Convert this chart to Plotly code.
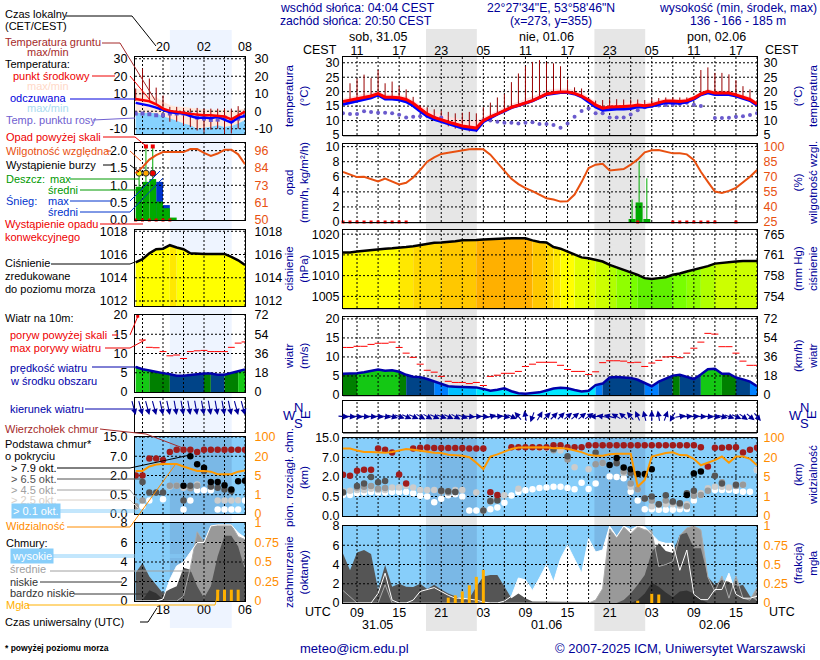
import math
import plotly.graph_objects as go

W, H = 820, 660
FONT = "Liberation Sans"
NAVY = "#000099"

# ---------- main column data (hourly, 31.05 07 UTC .. 02.06 18 UTC, hour counted from 31.05 00) ----------
M_H = list(range(7, 67))
M_T = [16.6,17.1,17.6,18.1,18.5,19.3,18.1,18.1,17.9,17.3,
       16.0,14.1,12.3,11.1,10.2,9.5,8.8,8.1,7.8,7.4,
       10.0,11.3,12.3,13.4,14.6,15.3,16.0,16.9,18.0,19.2,
       19.6,19.9,19.9,19.4,18.5,17.1,15.4,14.3,14.7,14.9,
       14.9,15.0,15.4,15.1,15.5,16.2,16.8,16.8,16.6,16.9,
       17.8,19.2,20.1,19.5,19.4,19.5,18.9,18.2,17.3,15.7]
M_FEEL = [15.6,16.2,16.8,17.4,17.9,18.9,17.5,17.5,17.2,16.5,
          15.1,13.2,11.5,10.4,9.6,8.9,8.2,7.4,7.0,6.7,
          9.6,11.0,12.2,13.3,14.5,15.2,15.9,16.8,17.9,19.0,
          19.4,19.7,19.7,19.2,18.2,16.6,14.7,13.6,13.9,14.0,
          14.0,14.2,14.8,14.6,15.0,15.6,16.2,16.1,16.0,16.4,
          17.4,18.9,19.6,19.0,18.9,19.0,18.5,17.8,16.9,15.3]
M_TMAX = [17.6,18.2,18.8,19.3,19.6,20.4,19.1,19.1,18.9,18.4,
          17.1,15.4,13.8,12.8,12.0,11.4,10.8,10.4,10.2,10.0,
          11.2,12.4,13.4,14.6,15.8,16.6,17.4,18.4,19.4,20.6,
          21.0,21.1,21.1,20.6,19.7,18.2,16.6,15.5,15.9,16.0,
          16.1,16.2,16.5,16.2,16.6,17.2,17.7,17.7,17.5,17.8,
          18.7,20.0,20.9,20.4,20.3,20.4,19.9,19.1,18.2,16.5]
M_FMIN = [15.0,15.7,16.3,16.9,17.4,18.4,17.0,17.0,16.7,16.0,
          14.6,12.7,11.0,9.9,9.1,8.4,7.7,6.9,6.5,6.2,
          9.1,10.5,11.8,13.0,14.2,14.9,15.6,16.5,17.6,18.7,
          19.1,19.4,19.4,18.9,17.9,16.2,14.2,13.2,13.5,13.6,
          13.6,13.8,14.4,14.2,14.6,15.2,15.8,15.7,15.6,16.0,
          17.0,18.5,19.2,18.6,18.5,18.6,18.1,17.4,16.5,15.0]
M_GMAX = [16.5,22.9,24.5,25.9,24.7,27.5,22.9,23.5,21.9,20.8,
          18.2,15.3,14.6,13.9,13.4,13.0,12.5,12.7,13.0,12.5,
          14.6,16.2,18.0,19.2,23.3,26.3,28.8,30.3,30.9,30.2,
          29.8,28.8,24.2,21.5,21.1,17.3,16.9,17.1,17.4,17.4,
          17.3,17.3,17.3,17.1,17.6,17.8,18.0,18.0,18.0,18.0,
          18.2,27.5,28.4,26.5,26.5,26.0,24.0,21.9,20.8,17.1]
M_GMIN = [15.5,16.0,16.6,17.2,17.7,18.6,17.3,17.3,17.0,16.3,
          14.9,13.0,11.2,10.0,9.0,8.0,7.2,6.6,6.2,6.0,
          9.4,10.8,12.0,13.2,14.4,15.1,15.8,16.7,17.8,18.9,
          19.3,19.6,19.6,19.1,18.1,16.4,14.5,13.4,13.7,13.8,
          13.8,14.0,14.6,14.4,14.8,15.4,16.0,16.0,15.9,16.2,
          17.2,18.7,19.4,18.8,18.7,18.8,18.3,17.6,16.7,15.1]
M_DEW = [12.5,12.3,12.3,13.2,13.0,12.7,12.7,12.5,12.0,11.1,
         11.3,11.5,11.6,11.1,11.1,None,None,None,None,None,
         10.0,10.0,9.6,9.2,9.2,9.0,9.2,9.4,8.8,8.8,
         8.5,7.5,9.0,11.3,13.3,14.2,12.5,12.5,11.1,11.1,
         11.1,12.1,13.6,14.6,15.0,15.2,15.4,15.5,15.7,16.2,
         15.5,15.0,None,10.9,10.9,11.0,11.3,11.5,11.9,12.5]
M_RH = [74.7,72.0,69.7,70.0,68.0,65.3,68.3,65.0,62.3,64.0,
        69.3,76.7,85.0,89.3,92.7,94.0,95.3,96.3,97.3,97.7,
        97.3,92.0,84.0,76.0,68.0,62.7,58.7,55.7,52.3,48.7,
        47.3,45.3,45.7,52.3,64.7,78.7,82.0,83.0,76.3,76.7,
        77.7,82.0,87.3,94.3,96.3,96.7,95.3,93.3,93.3,92.3,
        86.7,75.0,65.0,55.3,54.0,56.0,59.0,64.7,70.0,76.7]
M_RAIN_H = [48.2, 49.2, 50.3]
M_RAIN_MEAN = [0.4, 2.6, 0.4]
M_RAIN_MAX = [3.0, 8.0, 5.8]
M_CONV_H = [7,8,9,10,11,12,13,14,15,16,49,54,55,56,57,58,59,60,63]
M_P = [1015.6,1015.6,1015.8,1016.0,1016.1,1016.3,1016.5,1016.6,1016.7,1016.9,
       1017.1,1017.4,1017.7,1017.9,1018.0,1018.1,1018.3,1018.5,1018.5,1018.6,
       1018.7,1018.8,1018.9,1019.0,1019.0,1019.0,1019.0,1018.5,1018.1,1018.0,
       1016.9,1016.5,1015.8,1015.0,1014.4,1014.2,1013.8,1013.4,1012.6,1012.0,
       1011.4,1010.8,1010.2,1009.4,1009.2,1009.4,1009.6,1010.2,1010.5,1011.0,
       1011.4,1011.9,1012.3,1012.9,1013.1,1013.3,1013.4,1013.5,1013.5,1013.5]
M_WIND = [5.6,5.6,5.7,6.0,6.4,6.7,6.4,6.5,6.1,5.3,
          4.8,4.7,4.2,3.5,2.8,2.3,2.2,2.1,2.1,2.0,
          1.6,1.1,1.4,1.75,1.0,0.45,0.35,0.45,0.7,1.2,
          1.7,1.9,1.75,1.3,0.9,1.1,2.6,3.0,4.6,4.7,
          4.6,4.5,4.0,3.1,2.3,3.5,4.4,5.1,5.3,4.7,
          4.2,5.4,6.8,6.9,5.6,5.6,4.6,4.1,3.5,2.3]
M_GUST = [12.5,12.5,12.8,12.8,13.3,13.6,13.6,13.9,12.5,11.0,
          9.9,8.1,6.5,6.0,4.9,3.6,3.3,3.3,3.0,3.3,
          2.5,4.9,5.2,5.7,5.7,6.2,7.5,8.1,8.6,8.6,
          8.6,7.8,6.7,6.2,6.2,5.4,6.1,8.5,9.0,9.0,
          8.9,8.5,8.6,7.5,8.4,9.1,10.0,10.1,9.8,11.0,
          12.3,13.9,16.2,16.0,12.7,12.7,11.0,8.9,7.8,7.8]
M_DIR = [95,95,95,95,95,95,100,105,110,115,
         115,120,120,115,110,115,120,110,95,90,
         95,75,85,100,115,320,350,200,30,45,
         45,45,50,50,50,55,270,280,285,300,
         310,320,335,345,0,350,20,210,80,85,
         88,92,95,100,105,110,115,125,130,140]
M_TOP = [2.55,2.3,3.6,3.85,3.85,10.7,10.2,9.1,2.65,1.5,
         10.7,11,11.1,10.9,10.9,10.9,10.9,10.9,10.7,10.7,
         10.7,.83,.62,None,11.2,11.2,11.2,11.2,11.2,11.2,
         12,12,11.2,11.2,11.2,12,12,12,12,12,
         12,12,12,12,12,12,12,12,12,12,
         12,11.2,4.7,11,11,11.2,11.2,9.1,10.2,11]
M_B79 = [None]*38 + [5.1,6.85,4.45,4,2.8,2.8,4,None,None,None,None,.62,2.9,3.4] + [None]*8
M_B65 = [.8,None,1.3,1.5,2,1.6,1.7,None,None,None,
         None,None,None,None,.95,.9,.85,None,None,None,
         .14,.38,.4,None,None,None,None,None,None,None,
         10.5,None,7.5,None,None,None,9,None,None,5.5,
         None,3,None,.45,.5,.3,.6,.37,.33,.75,
         .95,None,None,2.3,1.5,None,1.4,None,None,None]
M_B45 = [.85,None,1.2,1.25,1.3,1.1,1.15,None,None,None,
         None,None,None,None,.9,.8,.85,None,None,None,
         .14,.4,.45,None,None,None,None,None,None,None,
         10,None,6.5,None,None,None,5.3,5.6,None,6,
         3.4,1.5,1.06,.45,.4,.3,.4,.35,.3,.25,
         .55,.62,.95,None,1.6,None,1.3,1.4,None,None]
M_B25 = [.9,.95,1.0,1.0,1.1,1.0,1.0,1.2,1.2,1.3,
         1.2,1.0,1.0,1.0,.9,.9,1.0,1.0,None,.8,
         None,.37,.45,.6,None,1.1,None,None,11,11,
         11,9.9,None,4.5,None,4,None,5.5,None,None,
         3,1.25,1.06,.45,.25,.28,.3,.3,.26,.3,
         .75,.75,1.13,1.25,1.25,1.2,1.4,1.4,None,3.8]
M_B01 = [.62,.62,.75,.8,.85,.8,.8,.85,.85,.85,
         .75,.55,.5,.35,.44,.6,.67,.5,.14,.14,
         .14,.17,.22,.34,.57,.85,.98,1.06,1.16,1.2,
         1.25,1.25,1.16,1.05,1.55,1.07,1.5,None,2.1,2.0,
         1.9,.87,.4,.17,.17,.16,.16,.16,.17,.18,
         .4,.62,None,1.0,1.0,1.0,.95,.87,.87,3.8]
M_VIS = [57,57,49,43,43,42,39,43,49,55,
         52,47,44,40,38,31,29,27,21,16,
         11,24,33,45,55,61,62,62,62,62,
         58,59,56,50,42,31,27,27,33,35,
         35,35,3,4.4,24,31,38,41,30,29,
         19,14,16,18,24,16,24,24,19,14]
M_CL_HIGH = [0,0,0,0,0,1,3.1,.3,0,0,
             .3,1.2,1.4,1.6,1.2,.8,.5,.5,.4,.3,
             .1,0,0,.2,.7,2.6,2.4,1.3,2.6,4,
             2.2,4.6,6,4.6,3.1,6.7,5.3,5.5,8,6.9,
             8,7.6,8,7.9,7.2,6.4,6.2,6.2,3.4,5.5,
             .9,.35,.35,1.4,1.4,3.1,.9,.5,.5,.7]
M_CL_MID = [1.3,.6,0,0,0,0,1.9,0,0,0,
            0,0,0,0,0,0,0,0,0,0,
            0,0,0,0,0,0,0,0,0,0,
            0,0,0,0,0,0,.3,1.5,7.7,6.8,
            7.9,7.2,7.9,7.6,7.5,3.8,4,4.3,7,7.8,
            8,7.6,2.7,1.2,2.8,.5,2.8,.5,.3,1.6]
M_CL_LOW = [5.15,3.4,5.25,5.5,5.1,1.4,3.95,1.7,2,1.7,
            1.65,2,1.45,1.9,1.4,1,.7,.35,.5,1.7,
            2.75,2.9,2.9,1.7,.5,1,.5,.15,.15,.15,
            .1,.1,.1,.1,.1,.1,0,0,0,0,
            .3,1,1.9,2.9,5.3,6.2,5.4,5.2,7.1,7.3,
            5.7,5.7,2.7,1.9,2.4,2.2,1.7,1.9,.7,.2]
M_CL_VLOW = [0,0,0,0,0,0,0,0,0,0,
             0,0,0,0,0,0,0,0,0,0,
             0,0,0,0,0,0,0,0,0,0,
             0,0,0,0,0,0,0,0,0,0,
             0,0,.3,1,2.1,1.7,1.1,.6,1.2,1.3,
             1,.4,0,0,0,0,0,0,0,0]
M_FOG_H = [22,23,24,25,26,27,49,51,52]
M_FOG = [.07,.1,.15,.23,.34,.43,.03,.12,.11]

# ---------- left column data (hourly, 14 UTC .. 06 UTC next day, 24 = midnight) ----------
L_H = list(range(14, 31))
L_T = [7,6.5,5.7,4,1.5,.2,-.2,-.8,-1.5,-2,-2.3,-2.3,-2.7,-3,-4.6,-2.3,-.2]
L_FEEL = [4.8,4.2,3.2,2.1,.6,-.6,-1,-1.3,-2.7,-3.8,-3.6,-4,-3.2,-4.8,-6.5,-3.6,-2.7]
L_TMAX = [13,12,9,8,5.5,3.5,2.5,2.5,2,1.5,1.2,1,1,.8,.2,1,1.5]
L_FTOP = [-1,-1,-1,-1,-3,-4,-5.5,-7,-8,-10,-9.5,-9,-8,-9,-8.5,-7,-5]
L_GMAX = [13,24.4,18.7,13.5,9,2.5,2.5,1.5,1.5,1.9,1.5,1.5,1.5,1.5,1.5,2.9,0]
L_GMIN = [6,6,6,4,1.5,-6,-6,-8,-9,-11,-12,-10.5,-10,-12.7,-12.7,-10,-1]
L_DEW = [-1.3,-1.3,-1.7,-2.3,-2.3,-1.3,-1.3,-1.3,-1.7,-3.6,-4.2,-5,-4.8,-3.6,-5.5,-4.2,-2.3]
L_RH = [81,85,90,93,95,95,95,95,97,97,94.5,92.5,94,96.5,96.5,93.5,87]
L_RAIN_H = [14.5,15.5,16.5,17.5,18.5,19.5]
L_RAIN_MEAN = [.96,1.1,1.18,.53,.34,.07]
L_SNOW_H = [17.5,18.5]
L_SNOW_MEAN = [1.1,.43]
L_RAIN_MAX_H = [14.5,15.5,16.5]
L_RAIN_MAX = [1.35,2.1,2.1]
L_RAIN_MAX_BASE = [.96,1.1,1.18]
L_STORM_H = [14.5,15.5,16.5]
L_STORM_V = [1.35,1.35,1.35]
L_STORM_C = ["#FFEE00","#FFA500","#EE0000"]
L_OVER_H = [15.5,16.5]
L_OVER_V = [2.12,2.12]
L_CONV_H = [14,15,16,17,18,19]
L_P = [1015.33,1015.6,1016.1,1016.45,1016.5,1016.8,1016.6,1016.45,1016.1,1016.05,1016.05,1016.05,1016.05,1016.05,1015.8,1015.5,1015.1]
L_WIND = [6.5,5.9,5.6,5.2,4.9,4.6,4.2,4.2,4.4,4.6,4.8,4.8,4.5,4.5,5.0,5.5,5.85]
L_GUST = [None,13.5,11.6,11.5,10.5,9.4,9.6,8.7,10.5,10.7,10.8,10.5,10.5,10.5,11.6,12.7,13]
L_GUST_OVER_H = [14.3]
L_GUST_OVER = [19.7]
L_DIR = [165,165,165,165,168,168,170,170,170,170,170,170,170,170,168,165,165]
L_TOP = [2,2,6.4,6.4,6,8.8,9.7,9.7,9.7,8.8,9.7,9.7,9.7,9.7,9.7,9.7,9.7]
L_B79 = [None,None,None,None,None,None,None,1.2,7,4.9,4,1.5,1.5,1.25,.9,1.55,1.6]
L_B65 = [None,1.5,.68,.68,.68,None,None,.35,1.2,None,3.2,1.15,1.05,.9,.8,None,None]
L_B45 = [.2,.35,None,None,None,1.2,1.2,None,1,1.2,None,1.15,None,None,None,None,None]
L_B25 = [.18,None,None,None,None,1.15,1.2,1.05,None,1.3,None,None,.35,.35,.35,.36,None]
L_B01 = [None,.2,.35,None,.38,None,None,.12,.35,.85,.85,.85,.12,.12,.12,.12,.35]
L_VIS = [8.6,8.6,12,13.6,14,14,14,12,10,8.6,8.6,8,6,6,6,8,9]
L_CL_HIGH = [0,0,0,0,.2,2.2,3.6,4,5,6,6,7.7,7.8,7.8,7.8,7,6.5]
L_CL_MID = [0,0,0,0,0,0,0,.5,3.4,7.1,6,7.7,7.8,7.8,7.8,6.6,6.3]
L_CL_LOW = [2.9,3.9,2.5,1.7,.8,1.2,1.5,3.4,3.2,1.5,.3,1.5,4.6,6.7,6.7,5.6,3.2]
L_CL_VLOW = [0,.1,1.1,.8,.15,0,0,0,0,0,0,0,0,0,0,0,0]
L_FOG_H = [26,27,28,29]
L_FOG = [.145,.145,.145,.145]

# ---------- axis ticks ----------
M_XGRID = list(range(9, 67, 3))
L_XGRID = list(range(15, 31, 3))
M_XT = [9,15,21,27,33,39,45,51,57,63]
M_CEST = ["11","17","23","05","11","17","23","05","11","17"]
M_UTC = ["09","15","21","03","09","15","21","03","09","15"]
L_XT = [18,24,30]
L_CEST = ["20","02","08"]
L_UTC = ["18","00","06"]
BASE_KM = [0,.5,2,7,15]
VIS_KM = [0,1,5,20,100]

def to_idx(v, scale):
    if v is None:
        return None
    for i in range(4):
        if v <= scale[i+1]:
            return i + (v-scale[i])/(scale[i+1]-scale[i])
    return 4

def fx(p): return p/W
def fy(p): return 1-p/H

traces, shapes, anns = [], [], []
layout_axes = {}

MX = (343,757); LX = (135,245)
MR = [7,66]; LR = [13.9,30]

def panel(i, xpx, ypx, xr, yr, yt, ytt, rr, rt, rtt, rcolor, xt=None, xtt=None, side=None, lt=3, rtl=3, stand=0):
    layout_axes[f"xaxis{i}"] = dict(domain=[fx(xpx[0]),fx(xpx[1])], range=xr, anchor=f"y{i}", showgrid=False, zeroline=False,
        showline=True, mirror=True, linecolor="black", linewidth=1, ticks="", ticklabelstandoff=stand,
        tickmode="array", tickvals=xt or [], ticktext=xtt or [], side=side or "bottom",
        tickfont=dict(family=FONT,size=12.5,color="black"), fixedrange=True)
    layout_axes[f"yaxis{i}"] = dict(domain=[fy(ypx[1]),fy(ypx[0])], range=yr, anchor=f"x{i}", showgrid=False, zeroline=False,
        showline=True, mirror=True, linecolor="black", linewidth=1, ticks="outside" if lt else "", ticklen=lt, tickcolor="rgba(0,0,0,0)",
        tickmode="array", tickvals=yt, ticktext=ytt, tickfont=dict(family=FONT,size=12.5,color="black"), fixedrange=True)
    layout_axes[f"yaxis{i+20}"] = dict(range=rr, overlaying=f"y{i}", anchor=f"x{i}", side="right", showgrid=False, zeroline=False,
        showline=False, ticks="outside", ticklen=rtl, tickcolor="rgba(0,0,0,0)",
        tickmode="array", tickvals=rt, ticktext=rtt, tickfont=dict(family=FONT,size=12.5,color=rcolor), fixedrange=True)
    traces.append(go.Scatter(x=[xr[0]],y=[rr[0]],xaxis=f"x{i}",yaxis=f"y{i+20}",mode="markers",marker=dict(opacity=0),hoverinfo="skip"))

def grid(i, xs, ys, xr, yr):
    gx, gy = [], []
    for x in xs:
        gx += [x,x,None]; gy += [yr[0],yr[1],None]
    for y in ys:
        gx += [xr[0],xr[1],None]; gy += [y,y,None]
    traces.append(go.Scatter(x=gx,y=gy,xaxis=f"x{i}",yaxis=f"y{i}",mode="lines",
        line=dict(color="black",width=1,dash="2px,2px"),hoverinfo="skip"))

def line(i, x, y, color, width=2, right=False):
    traces.append(go.Scatter(x=x,y=y,xaxis=f"x{i}",yaxis=f"y{i+20 if right else i}",mode="lines",
        line=dict(color=color,width=width),connectgaps=False,hoverinfo="skip"))

def dots(i, x, y, color, size=4, symbol="circle", clip=True, border=None, right=False):
    traces.append(go.Scatter(x=x,y=y,xaxis=f"x{i}",yaxis=f"y{i+20 if right else i}",mode="markers",cliponaxis=clip,
        marker=dict(color=color,size=size,symbol=symbol,line=dict(color=border or color,width=1 if border else 0)),hoverinfo="skip"))

def band(i, x, top, bottom, color):
    traces.append(go.Scatter(x=x,y=top,xaxis=f"x{i}",yaxis=f"y{i}",mode="lines",line=dict(width=0),hoverinfo="skip"))
    traces.append(go.Scatter(x=x,y=bottom,xaxis=f"x{i}",yaxis=f"y{i}",mode="lines",line=dict(width=0),fill="tonexty",fillcolor=color,hoverinfo="skip"))

def spikes(i, x, lo, hi, color, width=1, right=False):
    sx, sy = [], []
    for a,b,c in zip(x,lo,hi):
        sx += [a,a,None]; sy += [b,c,None]
    traces.append(go.Scatter(x=sx,y=sy,xaxis=f"x{i}",yaxis=f"y{i+20 if right else i}",mode="lines",
        line=dict(color=color,width=width),hoverinfo="skip"))

def area(i, x, y, color):
    traces.append(go.Scatter(x=x,y=y,xaxis=f"x{i}",yaxis=f"y{i}",mode="lines",line=dict(width=0),fill="tozeroy",fillcolor=color,hoverinfo="skip"))

def seg_fill(i, x, y, colorfn):
    start = 0
    cols = [colorfn((y[k]+y[k+1])/2) for k in range(len(y)-1)]
    for k in range(1,len(cols)+1):
        if k==len(cols) or cols[k]!=cols[start]:
            area(i, x[start:k+1], y[start:k+1], cols[start])
            start = k

def press_color(p):
    for th,c in [(1018.6,"#FFB000"),(1018.0,"#FFC800"),(1017.2,"#FFD800"),(1016.7,"#FFE800"),(1015.2,"#FFFF00"),
                 (1014,"#E4FF00"),(1013,"#CCFF00"),(1012,"#B0FF00"),(1011,"#90FF00"),(1010,"#78FF00")]:
        if p>=th: return c
    return "#60F000"

def wind_color(v):
    for th,c in [(5.7,"#14C814"),(5.1,"#008000"),(3.5,"#004488"),(2.5,"#0080FF"),(2,"#00C0FF")]:
        if v>=th: return c
    return "#00E8FF"

def wind_color_left(v):
    for th,c in [(5.6,"#14C814"),(4.7,"#008000")]:
        if v>=th: return c
    return "#004488"

def gusts(i, x, y):
    traces.append(go.Scatter(x=x,y=y,xaxis=f"x{i}",yaxis=f"y{i}",mode="markers",marker=dict(size=1,color="red",opacity=0),
        error_x=dict(type="constant",value=.5,thickness=1,width=0,color="red"),hoverinfo="skip"))

def arrows(i, x, dirs, L, centred):
    for a,d in zip(x,dirs):
        t = math.radians(d)
        sx, sy = (L/2*math.sin(t), L/2*math.cos(t)) if centred else (0,0)
        anns.append(dict(x=a,y=0,xref=f"x{i}",yref=f"y{i}",text="",showarrow=True,arrowhead=2,arrowsize=1.1,arrowwidth=1.1,
            arrowcolor=NAVY,ax=-L*math.sin(t),ay=L*math.cos(t),xshift=sx,yshift=sy))

# ---------- bands under everything ----------
shapes.append(dict(type="rect",xref="x2",yref="paper",x0=18.83,x1=26.07,y0=fy(631),y1=fy(29),fillcolor="#E6E6E6",line=dict(width=0),layer="below"))
shapes.append(dict(type="rect",xref="x2",yref="paper",x0=42.83,x1=50.07,y0=fy(631),y1=fy(29),fillcolor="#E6E6E6",line=dict(width=0),layer="below"))
shapes.append(dict(type="rect",xref="x9",yref="paper",x0=19.0,x1=28.05,y0=fy(628),y1=fy(30),fillcolor="#EEF4FF",line=dict(width=0),layer="below"))

# ---------- MAIN COLUMN ----------
i=2; yr=[5,32]; yt=[5,10,15,20,25,30]; ytt=[str(v) for v in yt]
panel(i,MX,(57,135),MR,yr,yt,ytt,yr,yt,ytt,"black",M_XT,M_CEST,"top",lt=0,stand=-4)
band(i,M_H,M_TMAX,M_T,"#FFE0E0")
band(i,M_H,M_FEEL,M_FMIN,"#A8DCFF")
grid(i,M_XGRID,yt[1:],MR,yr)
spikes(i,M_H,M_GMIN,M_GMAX,"#990000",1)
dots(i,M_H,M_DEW,"#6A5ACD",4)
line(i,M_H,M_FEEL,"#0000FF",3)
line(i,M_H,M_T,"#FF0000",3)
i=3; yr=[0,10.35]; yt=[0,2,4,6,8,10]; ytt=[str(v) for v in yt]
rr=[25,25+7.5*10.35]; rt=[25,40,55,70,85,100]
panel(i,MX,(144,222),MR,yr,yt,ytt,rr,rt,[str(v) for v in rt],"#E85010",lt=0)
traces.append(go.Bar(x=M_RAIN_H,y=M_RAIN_MEAN,width=1,xaxis=f"x{i}",yaxis=f"y{i}",marker=dict(color="#00AA00",line=dict(width=0)),hoverinfo="skip"))
grid(i,M_XGRID,yt[1:],MR,yr)
spikes(i,M_RAIN_H,M_RAIN_MEAN,M_RAIN_MAX,"#00AA00",1)
dots(i,M_CONV_H,[0]*len(M_CONV_H),"#EE0000",3,"square",clip=False)
line(i,M_H,M_RH,"#E85010",2,right=True)
i=4; yr=[1002.2,1021]; yt=[1005,1010,1015,1020]; ytt=[str(v) for v in yt]
rr=[yr[0]*.75006,yr[1]*.75006]; rt=[v*.75006 for v in yt]
panel(i,MX,(230,308),MR,yr,yt,ytt,rr,rt,["754","758","761","765"],"black",lt=0)
seg_fill(i,M_H,M_P,press_color)
grid(i,M_XGRID,yt,MR,yr)
line(i,M_H,M_P,"black",2.5)
i=5; yr=[0,20.5]; yt=[0,5,10,15,20]; ytt=[str(v) for v in yt]
rr=[0,20.5*3.6]; rt=[0,18,36,54,72]
panel(i,MX,(317,395),MR,yr,yt,ytt,rr,rt,[str(v) for v in rt],"black",lt=0)
seg_fill(i,M_H,M_WIND,wind_color)
grid(i,M_XGRID,yt[1:],MR,yr)
line(i,M_H,M_WIND,"#0000AA",2.5)
gusts(i,M_H,M_GUST)
i=6
panel(i,MX,(401,432),MR,[-1,1],[],[],[-1,1],[],[],"black",lt=0)
grid(i,M_XGRID,[],MR,[-1,1])
arrows(i,M_H,M_DIR,12,True)
i=7; yr=[0,4]; yt=[0,1,2,3,4]; ytt=["0.0","0.5","2.0","7.0","15.0"]
panel(i,MX,(438,516),MR,yr,yt,ytt,yr,yt,[str(v) for v in VIS_KM],"#FF8C00",lt=0)
shapes.append(dict(type="rect",xref="x7 domain",yref="y7 domain",x0=0,x1=1,y0=0,y1=1,fillcolor="#87CEFA",line=dict(width=0),layer="below"))
for a,b in [(18.83,26.07),(42.83,50.07)]:
    shapes.append(dict(type="rect",xref="x7",yref="y7 domain",x0=a,x1=b,y0=0,y1=1,fillcolor="#7AB8E6",line=dict(width=0),layer="below"))
grid(i,M_XGRID,yt[1:],MR,yr)
for ser,c in [(M_B01,"white"),(M_B25,"#CCCCCC"),(M_B45,"#999999"),(M_B65,"#555555"),(M_B79,"black"),(M_TOP,"#A01C1C")]:
    dots(i,M_H,[to_idx(v,BASE_KM) for v in ser],c,6.5)
line(i,M_H,[to_idx(v,VIS_KM) for v in M_VIS],"#FF9900",2)
i=8; yr=[0,8]; yt=[0,2,4,6,8]; ytt=[str(v) for v in yt]
rr=[0,1]; rt=[0,.25,.5,.75,1]
panel(i,MX,(526,603),MR,yr,yt,ytt,rr,rt,["0","0.25","0.5","0.75","1"],"#FF8C00",M_XT,M_UTC,"bottom",lt=0,stand=-2)
shapes.append(dict(type="rect",xref="x8 domain",yref="y8 domain",x0=0,x1=1,y0=0,y1=1,fillcolor="#87CEFA",line=dict(width=0),layer="below"))
for a,b in [(18.83,26.07),(42.83,50.07)]:
    shapes.append(dict(type="rect",xref="x8",yref="y8 domain",x0=a,x1=b,y0=0,y1=1,fillcolor="#7AB8E6",line=dict(width=0),layer="below"))
area(i,M_H,M_CL_HIGH,"white")
area(i,M_H,M_CL_MID,"#999999")
area(i,M_H,M_CL_LOW,"#555555")
area(i,M_H,M_CL_VLOW,"#333333")
grid(i,M_XGRID,yt[1:-1],MR,yr)
line(i,M_H,M_CL_MID,"#AAAAAA",1)
line(i,M_H,M_CL_HIGH,"white",1)
spikes(i,M_FOG_H,[0]*len(M_FOG),M_FOG,"#FFB000",3,right=True)

# ---------- LEFT COLUMN ----------
LT,RT = 4,6
i=9; yr=[-13,31]; yt=[-10,0,10,20,30]; ytt=[str(v) for v in yt]
panel(i,LX,(57,134),LR,yr,yt,ytt,yr,yt,ytt,"black",L_XT,L_CEST,"top",lt=LT,rtl=RT)
band(i,L_H,L_TMAX,L_FTOP,"#FFE8DC")
band(i,L_H,L_FTOP,[-13]*len(L_H),"#86D2FF")
grid(i,L_XGRID,yt,LR,yr)
spikes(i,L_H,L_GMIN,L_GMAX,"#990000",1)
dots(i,L_H,L_DEW,"#6A5ACD",4,"square")
line(i,L_H,L_FEEL,"#0000FF",2.5)
line(i,L_H,L_T,"#FF0000",2.5)
i=10; yr=[0,2.22]; yt=[0,.5,1,1.5,2]; ytt=["0.0","0.5","1.0","1.5","2.0"]
rr=[50,101]; rt=[50,61.5,73,84.5,96]
panel(i,LX,(143,220),LR,yr,yt,ytt,rr,rt,["50","61","73","84","96"],"#E85010",lt=LT,rtl=RT)
traces.append(go.Bar(x=L_SNOW_H,y=L_SNOW_MEAN,width=1,xaxis=f"x{i}",yaxis=f"y{i}",marker=dict(color="#0033CC",line=dict(width=0)),hoverinfo="skip"))
traces.append(go.Bar(x=L_RAIN_H,y=L_RAIN_MEAN,width=1,xaxis=f"x{i}",yaxis=f"y{i}",marker=dict(color="#00AA00",line=dict(width=0)),hoverinfo="skip"))
grid(i,L_XGRID,yt[1:],LR,yr)
spikes(i,L_RAIN_MAX_H,L_RAIN_MAX_BASE,L_RAIN_MAX,"#00AA00",1)
dots(i,L_CONV_H,[0]*len(L_CONV_H),"#EE0000",3,"square",clip=False)
dots(i,L_OVER_H,L_OVER_V,"#EE0000",4,"square")
dots(i,L_STORM_H,L_STORM_V,L_STORM_C,6,border="#333333")
line(i,L_H,L_RH,"#E85010",2,right=True)
i=11; yr=[1011.57,1018.11]; yt=[1012,1014,1016,1018]; ytt=[str(v) for v in yt]
panel(i,LX,(230,306),LR,yr,yt,ytt,yr,yt,ytt,"black",lt=LT,rtl=RT)
seg_fill(i,L_H,L_P,press_color)
grid(i,L_XGRID,yt,LR,yr)
line(i,L_H,L_P,"black",2.5)
i=12; yr=[0,20]; yt=[0,5,10,15,20]; ytt=[str(v) for v in yt]
rr=[0,72]; rt=[0,18,36,54,72]
panel(i,LX,(315,392),LR,yr,yt,ytt,rr,rt,[str(v) for v in rt],"black",lt=LT,rtl=RT)
seg_fill(i,L_H,L_WIND,wind_color_left)
grid(i,L_XGRID,yt[1:-1],LR,yr)
line(i,L_H,L_WIND,"#0000AA",2.5)
gusts(i,L_H,L_GUST)
dots(i,L_GUST_OVER_H,L_GUST_OVER,"#EE0000",3,"square")
i=13
panel(i,LX,(398,432),LR,[-1,1],[],[],[-1,1],[],[],"black",lt=0)
grid(i,L_XGRID,[],LR,[-1,1])
arrows(i,L_H,L_DIR,16,False)
i=14; yr=[0,4]; yt=[0,1,2,3,4]; ytt=["0.0","0.5","2.0","7.0","15.0"]
panel(i,LX,(437,514),LR,yr,yt,ytt,yr,yt,[str(v) for v in VIS_KM],"#FF8C00",lt=LT,rtl=RT)
shapes.append(dict(type="rect",xref="x14 domain",yref="y14 domain",x0=0,x1=1,y0=0,y1=1,fillcolor="#87CEFA",line=dict(width=0),layer="below"))
shapes.append(dict(type="rect",xref="x14",yref="y14 domain",x0=19,x1=28.05,y0=0,y1=1,fillcolor="#7AB8E6",line=dict(width=0),layer="below"))
grid(i,L_XGRID,yt[1:],LR,yr)
for ser,c in [(L_B01,"white"),(L_B25,"#CCCCCC"),(L_B45,"#999999"),(L_B65,"#555555"),(L_B79,"black"),(L_TOP,"#A01C1C")]:
    dots(i,L_H,[to_idx(v,BASE_KM) for v in ser],c,6.5)
line(i,L_H,[to_idx(v,VIS_KM) for v in L_VIS],"#FF9900",2)
i=15; yr=[0,8]; yt=[0,2,4,6,8]; ytt=[str(v) for v in yt]
rr=[0,1]; rt=[0,.25,.5,.75,1]
panel(i,LX,(523,601),LR,yr,yt,ytt,rr,rt,["0","0.25","0.5","0.75","1"],"#FF8C00",L_XT,L_UTC,"bottom",lt=LT,rtl=RT,stand=-3)
shapes.append(dict(type="rect",xref="x15 domain",yref="y15 domain",x0=0,x1=1,y0=0,y1=1,fillcolor="#87CEFA",line=dict(width=0),layer="below"))
shapes.append(dict(type="rect",xref="x15",yref="y15 domain",x0=19,x1=28.05,y0=0,y1=1,fillcolor="#7AB8E6",line=dict(width=0),layer="below"))
area(i,L_H,L_CL_HIGH,"white")
area(i,L_H,L_CL_MID,"#999999")
area(i,L_H,L_CL_LOW,"#555555")
area(i,L_H,L_CL_VLOW,"#333333")
grid(i,L_XGRID,yt[1:-1],LR,yr)
line(i,L_H,L_CL_MID,"#AAAAAA",1)
line(i,L_H,L_CL_HIGH,"white",1)
spikes(i,L_FOG_H,[0]*len(L_FOG),L_FOG,"#FFB000",3,right=True)

for yb,c in [(136,"#BBBBBB"),(223,"#CCCCCC"),(309,"#CCCCCC"),(396,"#CCCCCC"),(433,"#888888")]:
    shapes.append(dict(type="line",xref="paper",yref="paper",x0=fx(343),x1=fx(757),y0=fy(yb),y1=fy(yb),line=dict(color=c,width=2),layer="below"))

# ---------- texts ----------
def txt(x,y,t,color="black",size=12,anchor="left",bg=None,angle=0,**kw):
    d=dict(x=fx(x),y=fy(y),xref="paper",yref="paper",text=t,showarrow=False,xanchor=anchor,yanchor="middle",
        font=dict(family=FONT,size=size,color=color),borderpad=0,textangle=angle)
    if bg: d["bgcolor"]=bg; d["borderpad"]=1
    d.update(kw)
    anns.append(d)

BR="#A52A2A"; RED="#EE0000"; OR="#E85010"; GR="#009900"; BL="#0033CC"; MGR="#A0A0A0"; ORG="#FF8C00"
for x,y,t,c in [
 (5,14,"Czas lokalny","black"),(5,26,"(CET/CEST)","black"),
 (5,42,"Temperatura gruntu",BR),(27,52,"max/min",BR),(5,64,"Temperatura:","black"),
 (13,76,"punkt środkowy",RED),(27,86,"max/min","#FFD9C8"),(10,98,"odczuwana","#0000DD"),(27,108,"max/min","#A8DCF0"),
 (6,120,"Temp. punktu rosy","#7060D0"),(6,137,"Opad powyżej skali",RED),(6,151,"Wilgotność względna",OR),
 (6,165,"Wystąpienie burzy","black"),(6,179,"Deszcz:",GR),(50,179,"max",GR),(48,190,"średni",GR),
 (6,201,"Śnieg:",BL),(48,201,"max",BL),(48,212,"średni",BL),
 (5,224,"Wystąpienie opadu",RED),(5,237,"konwekcyjnego",RED),
 (5,263,"Ciśnienie","black"),(5,276,"zredukowane","black"),(5,289,"do poziomu morza","black"),
 (5,318,"Wiatr na 10m:","black"),(10,335,"poryw powyżej skali",RED),(10,348,"max porywy wiatru",RED),
 (10,368,"prędkość wiatru","#0000AA"),(10,381,"w środku obszaru","#0000AA"),(10,409,"kierunek wiatru","#0000AA"),
 (5,429,"Wierzchołek chmur",BR),(5,444,"Podstawa chmur*","black"),(5,456,"o pokryciu","black"),
 (11,468,"> 7.9 okt.","black"),(11,479,"> 6.5 okt.","#505050"),(11,490,"> 4.5 okt.",MGR),(11,500,"> 2.5 okt.","#D8D0C8"),
 (6,526,"Widzialność",ORG),(6,543,"Chmury:","black"),(10,569,"średnie",MGR),
 (10,582,"niskie","#333333"),(10,593,"bardzo niskie","#333333"),(6,605,"Mgła","#FFB000"),
 (5,622,"Czas uniwersalny (UTC)","black"),
]:
    txt(x-1,y,t,c,size=11)
txt(11,511,"> 0.1 okt.","white",size=11,bg="#87CEFA")
txt(10,556,"wysokie","white",size=11,bg="#87CEFA")
txt(4,648,"<b>* powyżej poziomu morza</b>","black",size=8.5)

txt(279,8,"wschód słońca: 04:04 CEST",NAVY,size=12.2)
txt(279,21,"zachód słońca: 20:50 CEST",NAVY,size=12.2)
txt(551,8,"22°27'34\"E, 53°58'46\"N",NAVY,anchor="center",size=12.2)
txt(551,21,"(x=273, y=355)",NAVY,anchor="center",size=12.2)
txt(738,8,"wysokość (min, środek, max)",NAVY,anchor="center",size=12.2)
txt(738,21,"136 - 166 - 185 m",NAVY,anchor="center",size=12.2)
txt(378,37,"sob, 31.05","black",anchor="center",size=12.5)
txt(546,37,"nie, 01.06","black",anchor="center",size=12.5)
txt(716,37,"pon, 02.06","black",anchor="center",size=12.5)
txt(320,50,"CEST","black",anchor="center",size=12.5)
txt(782,50,"CEST","black",anchor="center",size=12.5)
txt(318,612,"UTC","black",anchor="center",size=12.5)
txt(782,612,"UTC","black",anchor="center",size=12.5)
txt(377,625,"31.05","black",anchor="center",size=12.5)
txt(546,625,"01.06","black",anchor="center",size=12.5)
txt(714,625,"02.06","black",anchor="center",size=12.5)
txt(354,648,"meteo@icm.edu.pl",NAVY,anchor="center",size=13)
txt(680,648,"© 2007-2025 ICM, Uniwersytet Warszawski",NAVY,anchor="center",size=13)

for yc,l,yr2,r in [(96,"temperatura<br>(°C)",96,"(°C)<br>temperatura"),(183,"opad<br>(mm/h, kg/m²/h)",183,"(%)<br>wilgotność wzgl."),
               (269,"ciśnienie<br>(hPa)",269,"(mm Hg)<br>ciśnienie"),(356,"wiatr<br>(m/s)",356,"(km/h)<br>wiatr"),
               (478,"pion. rozciągł. chm.<br>(km)",475,"(km)<br>widzialność"),(572,"zachmurzenie<br>(oktanty)",563,"(frakcja)<br>mgła")]:
    txt(296,yc,l,NAVY,anchor="center",angle=-90,size=11.5)
    txt(805,yr2,r,NAVY,anchor="center",angle=-90,size=11.5)

for cx in (298,804):
    txt(cx-9,415,"W",NAVY,size=13,anchor="center")
    txt(cx,407,"N",NAVY,size=13,anchor="center")
    txt(cx+7,415,"E",NAVY,size=13,anchor="center",angle=-90)
    txt(cx,423,"S",NAVY,size=13,anchor="center")

# ---------- leader lines ----------
def lead(color, *pts, width=1):
    for (a,b),(c,d) in zip(pts,pts[1:]):
        shapes.append(dict(type="line",xref="paper",yref="paper",x0=fx(a),y0=fy(b),x1=fx(c),y1=fy(d),line=dict(color=color,width=width),layer="above"))

lead("black",(66,16),(132,16),(156,46))
lead(BR,(102,43),(120,43),(155,100))
lead(RED,(92,76),(115,76)); lead(RED,(130,76),(150,100))
lead("#0000DD",(70,99),(135,99))
lead("#7060D0",(93,120),(135,118))
lead(RED,(103,137),(135,137),(146,146))
lead(OR,(106,151),(111,151)); lead(OR,(130,151),(141,161))
lead("black",(103,165),(113,165)); lead("black",(130,165),(139,172))
lead(GR,(70,179),(139,179))
lead(GR,(80,190),(146,190))
lead(BL,(70,201),(113,201)); lead(BL,(130,201),(160,171))
lead(BL,(80,212),(130,212),(163,178))
lead(RED,(100,224),(143,224))
lead("black",(51,264),(130,264),(135,262))
lead(RED,(112,335),(118,335)); lead(RED,(130,335),(138,316))
lead(RED,(105,348),(130,348),(145,340))
lead("#0000AA",(92,367),(138,367))
lead("#0000AA",(85,409),(135,409))
lead(BR,(100,429),(146,434),(183,448))
lead("black",(57,468),(130,468),(190,455))
lead("#505050",(57,479),(143,479))
lead(MGR,(57,490),(130,490),(138,500))
lead("#D8D0C8",(57,500),(130,500),(138,508))
lead("#87CEFA",(57,510),(135,510)); lead("#87CEFA",(57,512),(135,512))
lead(ORG,(67,527),(130,527),(175,465))
lead("#87CEFA",(53,555),(186,555)); lead("#87CEFA",(53,557),(186,557))
lead(MGR,(50,571),(192,571))
lead("#333333",(40,582),(122,582)); lead("#333333",(134,582),(138,582))
lead("#333333",(74,594),(150,594))
lead("#FFB000",(27,605),(215,605),(219,590))
lead("black",(140,622),(148,622),(157,608))

fig = go.Figure(data=traces)
fig.update_layout(width=W,height=H,margin=dict(l=0,r=0,t=0,b=0,autoexpand=False),
    paper_bgcolor="white",plot_bgcolor="rgba(0,0,0,0)",showlegend=False,hovermode=False,barmode="overlay",
    shapes=shapes,annotations=anns,font=dict(family=FONT,size=12),**layout_axes)
fig.write_html("out.html",config=dict(displayModeBar=False),
    post_script="document.body.style.margin='0';document.body.style.overflow='hidden';")
